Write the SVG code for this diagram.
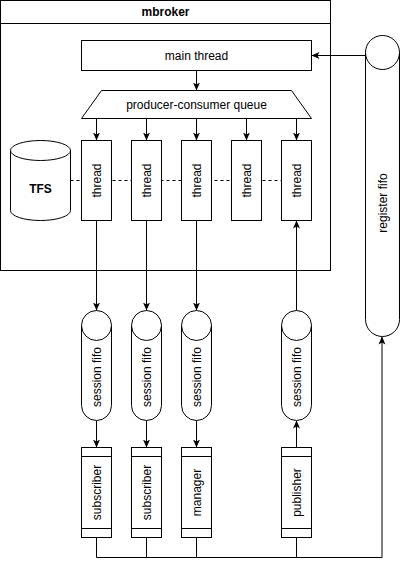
<svg xmlns="http://www.w3.org/2000/svg" width="401" height="568" viewBox="0 0 401 568">
<defs>
<style>
.s{fill:#fff;stroke:#000;stroke-width:1}
.n{fill:none;stroke:#000;stroke-width:1}
.t{font-family:"Liberation Sans",Arial,sans-serif;font-size:12px;fill:#000;text-anchor:middle;dominant-baseline:central}
.b{font-weight:bold}
.c{fill:none;stroke:#000;stroke-width:1}
.a{marker-end:url(#arr)}
.d{stroke-dasharray:3 3}
</style>
<marker id="arr" markerUnits="userSpaceOnUse" viewBox="0 0 8 8" refX="8" refY="4" markerWidth="8" markerHeight="8" orient="auto">
<path d="M0,0.5 L8,4 L0,7.5 L2,4 z" fill="#000"/>
</marker>
</defs>
<rect width="401" height="568" fill="#fff"/>

<g id="mbroker">
<rect class="s" x="0.5" y="0.5" width="330" height="270"/>
<line class="n" x1="0.5" y1="23.5" x2="330.5" y2="23.5"/>
<text class="t b" x="165.5" y="12">mbroker</text>
</g>

<g id="connectors">
<line class="c d" x1="70.5" y1="180.5" x2="281.5" y2="180.5"/>
<line class="c a" x1="366" y1="55.5" x2="311.5" y2="55.5"/>
<line class="c a" x1="196.5" y1="70.5" x2="196.5" y2="90.5"/>
<line class="c a" x1="96.5" y1="118.5" x2="96.5" y2="140.5"/>
<line class="c a" x1="146.5" y1="118.5" x2="146.5" y2="140.5"/>
<line class="c a" x1="196.5" y1="118.5" x2="196.5" y2="140.5"/>
<line class="c a" x1="246.5" y1="118.5" x2="246.5" y2="140.5"/>
<line class="c a" x1="296.5" y1="118.5" x2="296.5" y2="140.5"/>
<line class="c a" x1="96.5" y1="220.5" x2="96.5" y2="310.5"/>
<line class="c a" x1="146.5" y1="220.5" x2="146.5" y2="310.5"/>
<line class="c a" x1="196.5" y1="220.5" x2="196.5" y2="310.5"/>
<line class="c a" x1="296.5" y1="310.5" x2="296.5" y2="220.5"/>
<line class="c a" x1="96.5" y1="420.5" x2="96.5" y2="447.5"/>
<line class="c a" x1="146.5" y1="420.5" x2="146.5" y2="447.5"/>
<line class="c a" x1="196.5" y1="420.5" x2="196.5" y2="447.5"/>
<line class="c a" x1="296.5" y1="447.5" x2="296.5" y2="420.5"/>
<polyline class="c" points="96.5,537.5 96.5,557.5 382,557.5"/>
<line class="c" x1="146.5" y1="537.5" x2="146.5" y2="557.5"/>
<line class="c" x1="196.5" y1="537.5" x2="196.5" y2="557.5"/>
<line class="c" x1="296.5" y1="537.5" x2="296.5" y2="557.5"/>
<line class="c a" x1="382" y1="557.5" x2="382" y2="336.5"/>
</g>

<g id="main-thread">
<rect class="s" x="81.5" y="40.5" width="230" height="30"/>
<text class="t" x="196.5" y="55.5">main thread</text>
</g>

<g id="queue">
<polygon class="s" points="101.5,90.5 291.5,90.5 311.5,118.5 81.5,118.5"/>
<text class="t" x="196.5" y="104.5">producer-consumer queue</text>
</g>

<g id="tfs">
<path class="s" d="M10.5,150.5 A30,10 0 0 1 70.5,150.5 L70.5,210.5 A30,10 0 0 1 10.5,210.5 Z"/>
<path class="n" d="M10.5,150.5 A30,10 0 0 0 70.5,150.5"/>
<text class="t b" x="40.5" y="189">TFS</text>
</g>

<g id="thread1"><rect class="s" x="81.5" y="140.5" width="30" height="80"/><text class="t" transform="translate(96.5,180.5) rotate(-90)">thread</text></g>
<g id="thread2"><rect class="s" x="131.5" y="140.5" width="30" height="80"/><text class="t" transform="translate(146.5,180.5) rotate(-90)">thread</text></g>
<g id="thread3"><rect class="s" x="181.5" y="140.5" width="30" height="80"/><text class="t" transform="translate(196.5,180.5) rotate(-90)">thread</text></g>
<g id="thread4"><rect class="s" x="231.5" y="140.5" width="30" height="80"/><text class="t" transform="translate(246.5,180.5) rotate(-90)">thread</text></g>
<g id="thread5"><rect class="s" x="281.5" y="140.5" width="30" height="80"/><text class="t" transform="translate(296.5,180.5) rotate(-90)">thread</text></g>

<g id="register-fifo">
<path class="s" d="M365.5,52.5 A17,17 0 0 1 399.5,52.5 L399.5,319.5 A17,17 0 0 1 365.5,319.5 Z"/>
<path class="n" d="M365.5,52.5 A17,17 0 0 0 399.5,52.5"/>
<text class="t" transform="translate(382.5,203) rotate(-90)">register fifo</text>
</g>

<g id="session-fifo1">
<path class="s" d="M81.5,325.5 A15,15 0 0 1 111.5,325.5 L111.5,405.5 A15,15 0 0 1 81.5,405.5 Z"/>
<path class="n" d="M81.5,325.5 A15,15 0 0 0 111.5,325.5"/>
<text class="t" transform="translate(96.5,377) rotate(-90)">session fifo</text>
</g>
<g id="session-fifo2">
<path class="s" d="M131.5,325.5 A15,15 0 0 1 161.5,325.5 L161.5,405.5 A15,15 0 0 1 131.5,405.5 Z"/>
<path class="n" d="M131.5,325.5 A15,15 0 0 0 161.5,325.5"/>
<text class="t" transform="translate(146.5,377) rotate(-90)">session fifo</text>
</g>
<g id="session-fifo3">
<path class="s" d="M181.5,325.5 A15,15 0 0 1 211.5,325.5 L211.5,405.5 A15,15 0 0 1 181.5,405.5 Z"/>
<path class="n" d="M181.5,325.5 A15,15 0 0 0 211.5,325.5"/>
<text class="t" transform="translate(196.5,377) rotate(-90)">session fifo</text>
</g>
<g id="session-fifo4">
<path class="s" d="M281.5,325.5 A15,15 0 0 1 311.5,325.5 L311.5,405.5 A15,15 0 0 1 281.5,405.5 Z"/>
<path class="n" d="M281.5,325.5 A15,15 0 0 0 311.5,325.5"/>
<text class="t" transform="translate(296.5,377) rotate(-90)">session fifo</text>
</g>

<g id="subscriber1">
<rect class="s" x="81.5" y="447.5" width="30" height="90"/>
<line class="n" x1="81.5" y1="456.5" x2="111.5" y2="456.5"/><line class="n" x1="81.5" y1="528.5" x2="111.5" y2="528.5"/>
<text class="t" transform="translate(96.5,492.5) rotate(-90)">subscriber</text>
</g>
<g id="subscriber2">
<rect class="s" x="131.5" y="447.5" width="30" height="90"/>
<line class="n" x1="131.5" y1="456.5" x2="161.5" y2="456.5"/><line class="n" x1="131.5" y1="528.5" x2="161.5" y2="528.5"/>
<text class="t" transform="translate(146.5,492.5) rotate(-90)">subscriber</text>
</g>
<g id="manager">
<rect class="s" x="181.5" y="447.5" width="30" height="90"/>
<line class="n" x1="181.5" y1="456.5" x2="211.5" y2="456.5"/><line class="n" x1="181.5" y1="528.5" x2="211.5" y2="528.5"/>
<text class="t" transform="translate(196.5,492.5) rotate(-90)">manager</text>
</g>
<g id="publisher">
<rect class="s" x="281.5" y="447.5" width="30" height="90"/>
<line class="n" x1="281.5" y1="456.5" x2="311.5" y2="456.5"/><line class="n" x1="281.5" y1="528.5" x2="311.5" y2="528.5"/>
<text class="t" transform="translate(296.5,492.5) rotate(-90)">publisher</text>
</g>
</svg>
